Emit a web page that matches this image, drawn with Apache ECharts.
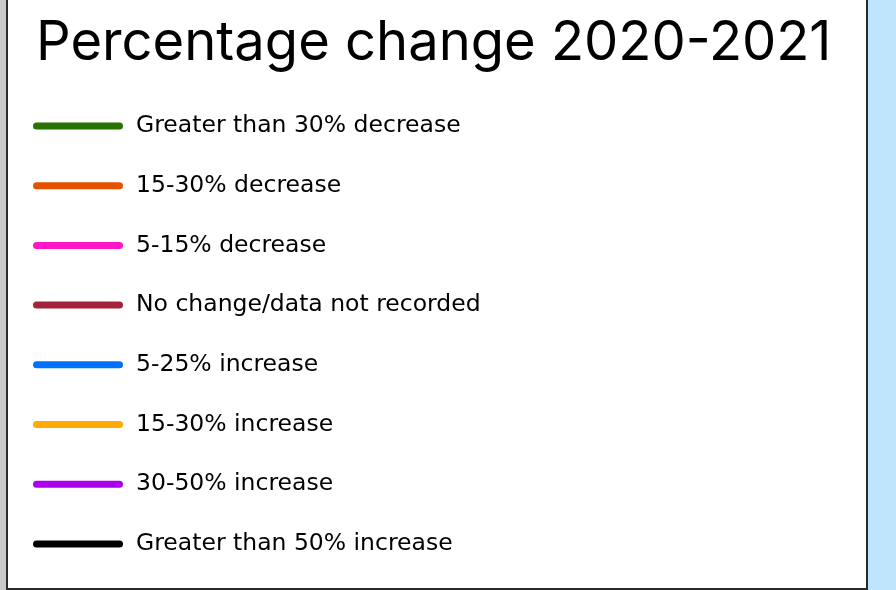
<!DOCTYPE html>
<html>
<head>
<meta charset="utf-8">
<script src="https://cdn.jsdelivr.net/npm/echarts@6/dist/echarts.min.js"></script>
<style>
  html, body { margin: 0; padding: 0; width: 896px; height: 590px; overflow: hidden; background: #bfe5fd; }
  #strip { position: absolute; left: 0; top: 0; width: 6px; height: 590px; background: #c9c9c9; }
  #chart { position: absolute; left: 6px; top: -2px; width: 858px; height: 588px;
           border: 2px solid #2a2a2a; background: #fff; }
</style>
</head>
<body>
<div id="strip"></div>
<div id="chart"></div>
<script>
"use strict";

// legend categories, top to bottom
const TITLE = "Percentage change 2020-2021";
const CATEGORIES = [
  "Greater than 30% decrease",
  "15-30% decrease",
  "5-15% decrease",
  "No change/data not recorded",
  "5-25% increase",
  "15-30% increase",
  "30-50% increase",
  "Greater than 50% increase",
];
const COLORS = [
  "#267300", "#e65100", "#ff16c8", "#a3243a",
  "#0070ff", "#ffaa00", "#aa00ee", "#000000",
];

const chart = echarts.init(document.getElementById("chart"));
chart.setOption({
  animation: false,
  title: {
    text: TITLE, left: 23, top: 12,
    textStyle: { fontFamily: "Inter", fontSize: 54.3, fontWeight: "normal", color: "#000" },
  },
  legend: {
    orient: "vertical", left: 20, top: 109,
    itemWidth: 90, itemHeight: 7, itemGap: 35.7,
    icon: "path://M3.5,0 H86.5 A3.5,3.5 0 0 1 86.5,7 H3.5 A3.5,3.5 0 0 1 3.5,0 Z",
    textStyle: { fontFamily: "DejaVu Sans", fontSize: 23.5, lineHeight: 24, color: "#000", padding: [0, 0, 0, 8] },
    data: CATEGORIES,
  },
  grid: { show: false },
  xAxis: { show: false, type: "category", data: [] },
  yAxis: { show: false, type: "value" },
  series: CATEGORIES.map((name, i) => ({
    name, type: "line", data: [], color: COLORS[i],
  })),
});
</script>
</body>
</html>
